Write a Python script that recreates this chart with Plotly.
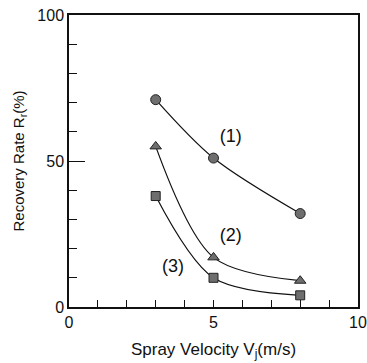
import plotly.graph_objects as go

velocity = [3, 5, 8]
series1 = [71, 51, 32]
series2 = [55, 17, 9]
series3 = [38, 10, 4]
labels = ["(1)", "(2)", "(3)"]
label_x = [5.6, 5.6, 3.6]
label_y = [58, 24, 13.5]

fig = go.Figure()
for ys, sym in [(series1, "circle"), (series2, "triangle-up"), (series3, "square")]:
    fig.add_trace(go.Scatter(
        x=velocity, y=ys, mode="lines+markers",
        line=dict(color="#111111", width=1.2, shape="spline", smoothing=0.9),
        marker=dict(symbol=sym, size=10 if sym != "square" else 9,
                    color="#6e6e6e", line=dict(color="#222222", width=1)),
        showlegend=False,
    ))

fig.add_trace(go.Scatter(
    x=label_x, y=label_y, mode="text", text=labels,
    textfont=dict(family="Liberation Sans, Arial", size=18, color="#111111"),
    showlegend=False,
))

fig.update_layout(
    width=367, height=363,
    margin=dict(l=69, r=9, t=15, b=56, autoexpand=False),
    paper_bgcolor="white", plot_bgcolor="white",
    font=dict(family="Liberation Sans, Arial", size=16, color="#111111"),
    xaxis=dict(
        range=[0, 10], tickvals=[0, 5, 10], ticks="inside", ticklen=7,
        tickcolor="#111111", tickwidth=1.2, automargin=False,
        tickfont=dict(size=16),
        minor=dict(dtick=1, ticks="inside", ticklen=7, tickcolor="#111111", tickwidth=1.2),
        showline=True, linecolor="#111111", linewidth=1.5, mirror=True,
        showgrid=False, zeroline=False,
        title=dict(text="Spray Velocity V<sub>j</sub>(m/s)", standoff=13,
                   font=dict(family="Liberation Sans, Arial", size=17)),
    ),
    yaxis=dict(
        range=[0, 100], tickvals=[0, 50, 100], ticks="inside", ticklen=16,
        tickcolor="#111111", tickwidth=1.2, automargin=False,
        tickfont=dict(size=16),
        minor=dict(dtick=10, ticks="inside", ticklen=8, tickcolor="#111111", tickwidth=1.2),
        showline=True, linecolor="#111111", linewidth=1.5, mirror=True,
        showgrid=False, zeroline=False,
        title=dict(text="Recovery Rate R<sub>r</sub>(%)", standoff=9,
                   font=dict(family="Liberation Sans, Arial", size=15)),
    ),
)

fig.write_html("out.html", config={"displayModeBar": False},
               post_script="document.body.style.margin='0';")
